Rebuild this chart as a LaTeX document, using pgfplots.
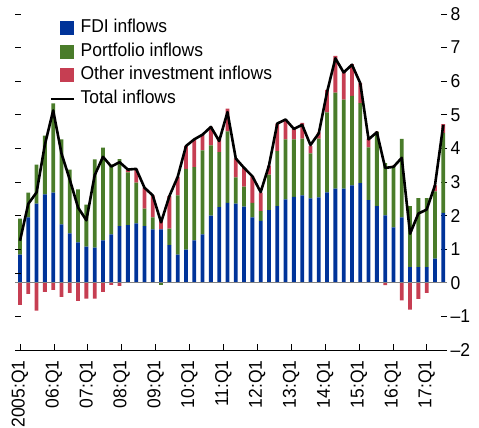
\documentclass[border=0pt]{standalone}
\usepackage{pgfplots}
\pgfplotsset{compat=1.18}
\usepackage{pgfplotstable}
\usepackage{fontspec}
\setmainfont{Liberation Sans}[FakeStretch=0.94]

\definecolor{fdi}{RGB}{0,51,153}
\definecolor{port}{RGB}{74,124,42}
\definecolor{oth}{RGB}{198,62,82}
\definecolor{zline}{RGB}{130,130,130}

\pgfplotstableread{
q fdi ppos pneg opos oneg total
0 0.84 1.07 0 0 -0.66 1.25
1 1.95 0.73 0 0 -0.33 2.35
2 2.36 1.16 0 0 -0.83 2.69
3 2.63 1.75 0 0 -0.27 4.11
4 2.68 2.66 0 0 -0.21 5.13
5 1.74 2.53 0 0 -0.42 3.85
6 1.47 1.90 0 0 -0.30 3.07
7 1.20 1.58 0 0 -0.54 2.24
8 1.08 1.25 0 0 -0.47 1.86
9 1.05 2.62 0 0 -0.47 3.20
10 1.26 2.76 0 0 -0.27 3.75
11 1.44 2.08 0 0 -0.06 3.46
12 1.69 1.99 0 0 -0.09 3.59
13 1.72 1.57 0 0.08 0 3.37
14 1.77 1.21 0 0.41 0 3.39
15 1.69 0.52 0 0.62 0 2.83
16 1.59 0.36 0 0.65 0 2.60
17 1.59 0 -0.08 0.29 0 1.80
18 1.12 0.49 0 0.97 0 2.58
19 0.84 1.76 0 0.55 0 3.15
20 0.99 2.40 0 0.68 0 4.07
21 1.26 2.18 0 0.83 0 4.27
22 1.44 2.50 0 0.47 0 4.41
23 2.00 2.09 0 0.55 0 4.64
24 2.25 1.64 0 0.41 0 4.22
25 2.38 2.13 0 0.67 0 5.08
26 2.36 0.78 0 0.56 0 3.70
27 2.27 0.59 0 0.56 0 3.42
28 1.95 0.43 0 0.79 0 3.17
29 1.84 0.29 0 0.55 0 2.70
30 2.16 1.06 0 0.27 0 3.49
31 2.28 1.64 0 0.82 0 4.74
32 2.48 1.79 0 0.59 0 4.86
33 2.56 1.71 0 0.31 0 4.58
34 2.60 1.69 0 0.47 0 4.70
35 2.51 1.34 0 0.22 0 4.10
36 2.54 1.75 0 0.19 0 4.45
37 2.69 2.38 0 0.67 0 5.68
38 2.80 2.86 0 1.09 0 6.68
39 2.80 2.65 0 0.84 0 6.26
40 2.90 2.66 0 0.95 0 6.49
41 2.97 2.38 0 0.59 0 5.94
42 2.46 1.57 0 0.26 0 4.27
43 2.28 2.21 0 0.01 0 4.48
44 2.01 1.55 0 0 -0.07 3.42
45 1.65 1.80 0 0.04 0 3.45
46 1.95 2.33 0 0 -0.52 3.72
47 0.47 1.81 0 0 -0.80 1.46
48 0.47 2.05 0 0 -0.48 2.06
49 0.47 2.05 0 0 -0.30 2.18
50 0.72 2.00 0 0.18 0 2.90
51 2.08 2.38 0 0.26 0 4.70
}\data

\newcommand{\fs}{\fontsize{18.6}{22}\selectfont}

\pgfplotsset{
  base/.style={
    at={(15pt,78pt)}, anchor=south west,
    scale only axis, width=432pt, height=336pt,
    xmin=-0.6, xmax=51.45, ymin=-2, ymax=8,
  },
  sq legend/.style={legend image code/.code={%
    \path[draw=none,fill=none] (0pt,-7pt) rectangle (23pt,7pt);
    \fill[##1,draw=none] (9pt,-7pt) rectangle (23pt,7pt);}},
  ln legend/.style={legend image code/.code={%
    \path[draw=none,fill=none] (0pt,-7pt) rectangle (23pt,7pt);
    \draw[##1,fill=none] (0pt,0pt) -- (23pt,0pt);}},
}

\begin{document}
\begin{tikzpicture}
% positive parts, bottom axis, right ticks, legend
\begin{axis}[base,
  ybar stacked, bar width=3.8pt,
  axis x line*=bottom, axis y line*=right,
  axis line style={-},
  x axis line style={line width=0.8pt},
  y axis line style={draw=none},
  tick align=inside, major tick length=6pt,
  tick style={black, line width=0.6pt},
  xtick={0,4.084,8.168,12.252,16.336,20.42,24.504,28.588,32.672,36.756,40.84,44.924,49.008},
  xticklabels={2005:Q1,06:Q1,07:Q1,08:Q1,09:Q1,10:Q1,11:Q1,12:Q1,13:Q1,14:Q1,15:Q1,16:Q1,17:Q1},
  xticklabel style={rotate=90, anchor=east, font=\fs},
  xticklabel shift=7pt,
  ytick={-2,-1,0,1,2,3,4,5,6,7,8},
  yticklabels={\textendash2,\textendash1,0,1,2,3,4,5,6,7,8},
  yticklabel style={font=\fs},
  legend cell align=left,
  legend style={draw=none, fill=none, at={(0.0795,0.986)}, anchor=north west,
    inner sep=0pt, row sep=5.7pt, column sep=0pt,
    font=\fs, nodes={inner xsep=5.5pt, inner ysep=0pt, text height=13.5pt, text depth=4.5pt}},
]
\addplot[fill=fdi, draw=none, sq legend] table[x=q, y=fdi] {\data};
\addlegendentry{FDI inflows}
\addplot[fill=port, draw=none, sq legend] table[x=q, y=ppos] {\data};
\addlegendentry{Portfolio inflows}
\addplot[fill=oth, draw=none, sq legend] table[x=q, y=opos] {\data};
\addlegendentry{Other investment inflows}
\addlegendimage{black, line width=2.6pt, ln legend}
\addlegendentry{Total inflows}
\end{axis}
% negative parts and left ticks
\begin{axis}[base,
  ybar stacked, bar width=3.8pt,
  hide x axis,
  axis y line*=left, y axis line style={draw=none},
  tick align=inside, major tick length=6pt,
  tick style={black, line width=0.6pt},
  ytick={-1,0.28,1,2,3,4,5,6,7,8}, yticklabels={},
]
\addplot[fill=port, draw=none] table[x=q, y=pneg] {\data};
\addplot[fill=oth, draw=none] table[x=q, y=oneg] {\data};
\end{axis}
% zero line and total
\begin{axis}[base, hide axis]
\addplot[zline, line width=1.2pt] coordinates {(-0.6,0) (51.45,0)};
\addplot[black, line width=2.6pt, line join=round] table[x=q, y=total] {\data};
\end{axis}
\pgfresetboundingbox
\path[use as bounding box] (0,0) rectangle (479pt,428pt);
\end{tikzpicture}
\end{document}
